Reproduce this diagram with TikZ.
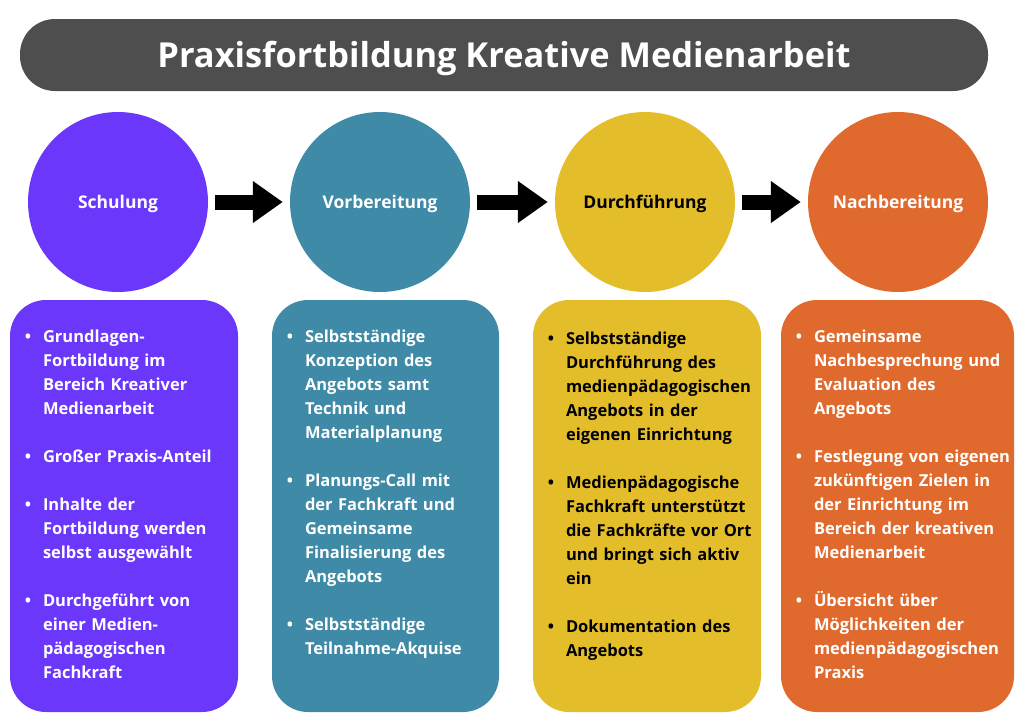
\documentclass[tikz,border=0pt]{standalone}
\usepackage{fontspec}
\setmainfont{Open Sans}
\usetikzlibrary{arrows.meta}

\definecolor{banner}{HTML}{4D4E4D}
\definecolor{lila}{HTML}{6B38FB}
\definecolor{petrol}{HTML}{3F8AA6}
\definecolor{senf}{HTML}{E4BD2A}
\definecolor{rost}{HTML}{E06A2E}

\newenvironment{punkte}{\begin{list}{\makebox[10pt][r]{\textbullet}}{\setlength{\leftmargin}{22pt}\setlength{\labelwidth}{10pt}\setlength{\labelsep}{12pt}\setlength{\itemsep}{24pt}\setlength{\parsep}{0pt}\setlength{\topsep}{0pt}\setlength{\partopsep}{0pt}}}{\end{list}}

\tikzset{
  phase/.style={circle, minimum size=180pt, inner sep=0pt, text=white, text height=13pt, text depth=0pt, font=\bfseries\fontsize{17.5}{20}\selectfont},
  karte/.style={rounded corners=36pt, minimum height=412pt, inner sep=0pt},
  punktetext/.style={anchor=north west, inner sep=0pt, text width=250pt, align=left, text=white, font=\bfseries\fontsize{16.5}{24}\selectfont},
  pfeil/.style={line width=15pt, -{Triangle[length=30pt,width=40pt]}, shorten <=7pt, shorten >=7pt}
}

\begin{document}
\begin{tikzpicture}[x=1pt, y=-1pt]
\useasboundingbox (0,0) rectangle (1024,724);

% Titel
\node[fill=banner, rounded corners=35pt, minimum width=968pt, minimum height=72pt, text=white, text height=24pt, text depth=0pt, font=\bfseries\fontsize{34.4}{38}\selectfont] (titel) at (504,55) {Praxisfortbildung Kreative Medienarbeit};

% Phasen
\node[phase, fill=lila] (schulung) at (118,202) {Schulung};
\node[phase, fill=petrol] (vorbereitung) at (380,202) {Vorbereitung};
\node[phase, fill=senf, text=black] (durchfuehrung) at (645,202) {Durchführung};
\node[phase, fill=rost] (nachbereitung) at (898,202) {Nachbereitung};

\draw[pfeil] (schulung) -- (vorbereitung);
\draw[pfeil] (vorbereitung) -- (durchfuehrung);
\draw[pfeil] (durchfuehrung) -- (nachbereitung);

% Karten
\node[karte, fill=lila, minimum width=228pt] (kasten1) at (124,506) {};
\node[karte, fill=petrol, minimum width=227pt] (kasten2) at (385.5,506) {};
\node[karte, fill=senf, minimum width=228pt] (kasten3) at (647,506) {};
\node[karte, fill=rost, minimum width=233pt] (kasten4) at (897.5,506) {};

\node[punktetext] (liste1) at ([xshift=11pt, yshift=-18pt]kasten1.north west) {\begin{punkte}
\item Grundlagen-\\Fortbildung im\\Bereich Kreativer\\Medienarbeit
\item Großer Praxis-Anteil
\item Inhalte der\\Fortbildung werden\\selbst ausgewählt
\item Durchgeführt von\\einer Medien-\\pädagogischen\\Fachkraft
\end{punkte}};

\node[punktetext] (liste2) at ([xshift=11pt, yshift=-18pt]kasten2.north west) {\begin{punkte}
\item Selbstständige\\Konzeption des\\Angebots samt\\Technik und\\Materialplanung
\item Planungs-Call mit\\der Fachkraft und\\Gemeinsame\\Finalisierung des\\Angebots
\item Selbstständige\\Teilnahme-Akquise
\end{punkte}};

\node[punktetext, text=black] (liste3) at ([xshift=11pt, yshift=-20pt]kasten3.north west) {\begin{punkte}
\item Selbstständige\\Durchführung des\\medienpädagogischen\\Angebots in der\\eigenen Einrichtung
\item Medienpädagogische\\Fachkraft unterstützt\\die Fachkräfte vor Ort\\und bringt sich aktiv\\ein
\item Dokumentation des\\Angebots
\end{punkte}};

\node[punktetext] (liste4) at ([xshift=11pt, yshift=-18pt]kasten4.north west) {\begin{punkte}
\item Gemeinsame\\Nachbesprechung und\\Evaluation des\\Angebots
\item Festlegung von eigenen\\zukünftigen Zielen in\\der Einrichtung im\\Bereich der kreativen\\Medienarbeit
\item Übersicht über\\Möglichkeiten der\\medienpädagogischen\\Praxis
\end{punkte}};
\end{tikzpicture}
\end{document}
